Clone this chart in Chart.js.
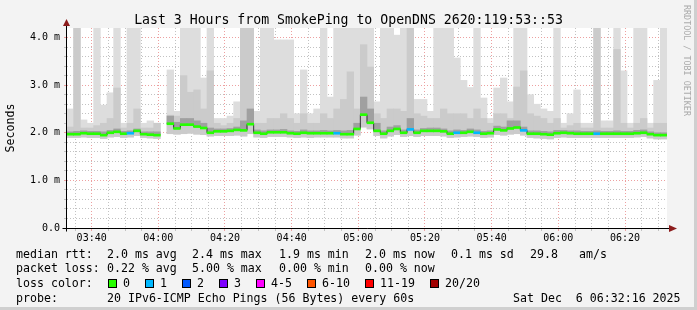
<!DOCTYPE html>
<html>
<head>
<meta charset="utf-8">
<script src="https://cdn.jsdelivr.net/npm/chart.js@4.4.1/dist/chart.umd.min.js"></script>
<style>
  html, body { margin: 0; padding: 0; background: #f3f3f3; }
  #graph { position: relative; width: 697px; height: 310px; background: #f3f3f3; overflow: hidden;
           font-family: 'DejaVu Sans Mono', monospace; color: #000; }
  #graph canvas { position: absolute; left: 0; top: 0; }
  .edge-r { position: absolute; right: 0; top: 0; width: 3px; height: 310px; background: #cfcfcf; }
  .edge-b { position: absolute; left: 0; bottom: 0; width: 697px; height: 3px; background: #cfcfcf; }
  .title { position: absolute; left: 0; top: 12px; width: 697px; text-align: center; font-size: 13.2px; line-height: 16px; white-space: pre; }
  .mark { position: absolute; left: 682px; top: 5px; writing-mode: vertical-rl; font-size: 8.4px; color: #aaaaaa; white-space: pre; }
  .t { position: absolute; white-space: pre; font-size: 11.6px; line-height: 14px; }
  .sw { position: absolute; width: 9px; height: 9px; box-sizing: border-box; border: 1px solid #000; }
</style>
</head>
<body>
<div id="graph">
  <canvas id="chart" width="697" height="310"></canvas>
  <div class="edge-r"></div>
  <div class="edge-b"></div>
  <div class="title">Last 3 Hours from SmokePing to OpenDNS 2620:119:53::53</div>
  <div class="mark">RRDTOOL / TOBI OETIKER</div>
  <div id="legend"></div>
</div>
<script>
// 2-minute slots starting at the left edge of the graph
var startTime = '03:32:36';
var stepMinutes = 2;
var windowMinutes = 180;

// median rtt (ms) per slot
var median = [1.97,1.97,1.99,1.98,1.98,1.95,2.00,2.02,1.98,1.99,
              2.04,1.97,1.96,1.95,null,2.19,2.09,2.17,2.17,2.13,
              2.10,2.00,2.03,2.03,2.04,2.06,2.05,2.18,2.00,1.98,
              2.01,2.01,2.01,1.99,1.98,2.00,1.99,1.99,1.99,1.99,
              1.99,1.97,1.97,2.08,2.38,2.21,2.04,1.98,2.04,2.08,
              2.00,2.07,2.00,2.04,2.04,2.04,2.03,1.98,2.00,2.00,
              2.02,2.00,1.98,1.99,2.07,2.05,2.09,2.11,2.05,1.98,
              1.98,1.97,1.96,1.99,2.00,1.99,1.98,1.98,1.98,1.98,
              1.98,1.98,1.98,1.98,1.98,1.99,2.00,1.97,1.95,1.95];
// lost pings (of 20) per slot
var loss = [0,0,0,0,0,0,0,0,0,1, 0,0,0,0,null,0,0,0,0,0,
            0,0,0,0,0,0,0,0,0,0, 0,0,0,0,0,0,0,0,0,0,
            1,0,0,0,0,0,0,0,0,0, 0,1,0,0,0,0,0,0,1,0,
            0,1,0,0,0,0,0,0,1,0, 0,0,0,0,0,0,0,0,0,1,
            0,0,0,0,0,0,0,0,0,0];
// smoke: fastest ping
var smokeMin = [1.90,1.90,1.91,1.90,1.90,1.88,1.91,1.92,1.90,1.91,
                1.94,1.90,1.89,1.88,null,1.98,1.97,1.98,1.99,1.97,
                1.96,1.93,1.94,1.94,1.94,1.95,1.93,1.98,1.91,1.90,
                1.92,1.92,1.92,1.91,1.90,1.91,1.90,1.91,1.91,1.91,
                1.91,1.89,1.89,1.95,2.12,2.08,1.94,1.89,1.93,1.96,
                1.92,1.94,1.92,1.94,1.94,1.94,1.93,1.90,1.91,1.92,
                1.93,1.92,1.90,1.91,1.96,1.95,1.97,1.98,1.95,1.90,
                1.89,1.88,1.87,1.90,1.91,1.90,1.90,1.90,1.90,1.90,
                1.90,1.90,1.90,1.90,1.90,1.91,1.92,1.89,1.87,1.87];
// smoke: upper edge of the dark band just above the median
var smokeDark = [2.02,2.03,2.04,2.03,2.03,2.02,2.05,2.08,2.03,2.04,
                 2.08,2.02,2.02,2.02,null,2.35,2.22,2.30,2.30,2.25,
                 2.20,2.10,2.08,2.08,2.09,2.12,2.25,2.50,2.06,2.04,
                 2.06,2.06,2.07,2.04,2.03,2.06,2.04,2.04,2.05,2.04,
                 2.05,2.04,2.05,2.20,2.75,2.50,2.20,2.04,2.12,2.15,
                 2.06,2.30,2.06,2.09,2.10,2.10,2.08,2.04,2.06,2.05,
                 2.08,2.06,2.03,2.04,2.14,2.12,2.25,2.25,2.12,2.04,
                 2.04,2.03,2.02,2.05,2.05,2.04,2.04,2.03,2.03,2.04,
                 2.03,2.03,2.04,2.03,2.03,2.05,2.06,2.02,2.00,2.00];
// smoke: upper edge of the mid grey band
var smokeMid = [2.12,4.20,2.10,2.10,2.15,2.20,2.30,2.94,2.10,2.20,
                2.50,2.10,2.10,2.20,null,2.37,2.35,3.20,2.85,2.90,
                2.50,3.30,2.20,2.15,2.20,2.30,4.20,4.20,2.20,2.20,
                2.30,2.30,2.40,2.30,2.20,2.40,2.20,2.20,2.40,2.30,
                2.50,2.70,3.28,2.50,3.85,3.38,2.40,2.30,2.50,2.50,
                2.45,4.20,2.40,2.35,2.30,2.30,2.50,2.40,2.40,2.40,
                2.30,2.50,2.30,2.20,2.40,2.40,2.30,2.96,3.30,2.40,
                2.35,2.30,2.20,2.30,2.10,2.15,2.20,2.10,2.10,4.20,
                2.10,2.10,3.75,2.20,2.10,2.20,2.30,2.10,2.20,2.20];
// smoke: slowest ping
var smokeMax = [2.50,4.20,2.27,2.20,4.20,2.58,2.84,4.20,2.20,4.20,
                4.20,2.20,2.25,2.20,null,3.32,2.45,4.20,4.20,4.20,
                3.15,4.20,2.30,2.30,2.35,2.65,4.20,4.20,2.45,4.20,
                4.20,3.95,3.95,3.95,2.40,3.32,2.40,2.50,4.20,2.75,
                4.20,4.20,4.20,4.20,4.20,4.20,2.65,4.20,4.20,4.05,
                4.20,4.20,2.70,2.70,2.45,4.20,4.20,4.20,3.57,3.10,
                2.95,4.20,2.73,2.30,2.94,3.15,2.65,4.20,4.20,2.80,
                2.60,2.50,2.45,4.20,2.20,2.40,2.90,2.20,2.20,4.20,
                2.25,2.25,4.20,3.30,2.20,4.20,4.20,2.20,3.10,4.20];

var xTickLabels = ['03:40','04:00','04:20','04:40','05:00','05:20','05:40','06:00','06:20'];
var yTickLabels = ['0.0','1.0 m','2.0 m','3.0 m','4.0 m'];
var lossLabels = ['0','1','2','3','4-5','6-10','11-19','20/20'];
var lossColors = ['#26ff00','#00b8ff','#0059ff','#7e00ff','#ff00ff','#ff5500','#ff0000','#a10000'];

function toMin(s) {
    var p = s.split(':').map(Number);
    return p[0] * 60 + p[1] + (p[2] || 0) / 60;
}
function fmt(v) {
    var h = Math.floor(v / 60), m = Math.round(v - h * 60);
    return (h < 10 ? '0' : '') + h + ':' + (m < 10 ? '0' : '') + m;
}

var x0 = toMin(startTime);
var slotX = median.map(function (_, i) { return x0 + stepMinutes * i + stepMinutes / 2; });
var majorX = xTickLabels.map(toMin);
var mono = "'DejaVu Sans Mono', monospace";
var medianHalf = 0.021;

function band(lo, hi) {
    return slotX.map(function (x, i) {
        return { x: x, y: (lo[i] == null || hi[i] == null) ? null : [lo[i], hi[i]] };
    });
}

var barBase = { type: 'bar', grouped: false, barPercentage: 1, categoryPercentage: 1, borderWidth: 0 };

var frame = {
    id: 'frame',
    beforeDraw: function (chart) {
        var a = chart.chartArea, ctx = chart.ctx;
        ctx.save();
        ctx.fillStyle = '#ffffff';
        ctx.fillRect(a.left, a.top, a.right - a.left, a.bottom - a.top);
        ctx.restore();
    },
    afterDraw: function (chart) {
        var a = chart.chartArea, ctx = chart.ctx;
        var yb = Math.round(a.bottom) + 0.5, xl = Math.round(a.left) - 0.5;
        ctx.save();
        ctx.strokeStyle = '#000';
        ctx.lineWidth = 1;
        ctx.beginPath();
        ctx.moveTo(xl - 4, yb); ctx.lineTo(a.right + 5, yb);
        ctx.moveTo(xl, yb + 3); ctx.lineTo(xl, a.top - 4);
        ctx.stroke();
        ctx.fillStyle = '#8c1c1c';
        ctx.beginPath();
        ctx.moveTo(a.right + 2, yb - 3.5); ctx.lineTo(a.right + 10, yb); ctx.lineTo(a.right + 2, yb + 3.5);
        ctx.closePath(); ctx.fill();
        ctx.beginPath();
        ctx.moveTo(xl - 3.5, a.top - 2); ctx.lineTo(xl, a.top - 9); ctx.lineTo(xl + 3.5, a.top - 2);
        ctx.closePath(); ctx.fill();
        ctx.restore();
    }
};

new Chart(document.getElementById('chart').getContext('2d'), {
    type: 'bar',
    data: {
        datasets: [
            Object.assign({}, barBase, {
                label: 'median',
                data: slotX.map(function (x, i) {
                    return { x: x, y: median[i] == null ? null : [median[i] - medianHalf, median[i] + medianHalf] };
                }),
                backgroundColor: loss.map(function (l) { return lossColors[l || 0]; })
            }),
            {
                type: 'line',
                label: 'median step',
                data: slotX.map(function (x, i) { return { x: x, y: median[i] }; }),
                stepped: 'middle',
                borderColor: '#333',
                borderWidth: 1,
                pointRadius: 0,
                spanGaps: false
            },
            Object.assign({}, barBase, { label: 'dark', data: band(median, smokeDark), backgroundColor: '#a0a0a0' }),
            Object.assign({}, barBase, { label: 'mid', data: band(smokeMin, smokeMid), backgroundColor: '#cbcbcb' }),
            Object.assign({}, barBase, { label: 'light', data: band(smokeMin, smokeMax), backgroundColor: '#dddddd' })
        ]
    },
    options: {
        responsive: false,
        animation: false,
        layout: { padding: { left: 0, top: 28, right: 30, bottom: 62 } },
        plugins: { legend: { display: false }, tooltip: { enabled: false }, title: { display: false } },
        scales: {
            x: {
                type: 'linear',
                min: x0,
                max: x0 + windowMinutes,
                offset: false,
                z: 1,
                afterFit: function (s) { s.height = 20; },
                afterBuildTicks: function (s) {
                    var t = [];
                    for (var v = Math.ceil(x0 / 5) * 5; v <= x0 + windowMinutes; v += 5) t.push({ value: v });
                    s.ticks = t;
                },
                grid: {
                    offset: false,
                    tickLength: 3,
                    color: function (c) {
                        return c.tick && majorX.indexOf(c.tick.value) >= 0 ? '#eda0a0' : '#c2c2c2';
                    }
                },
                border: { display: false, dash: [1, 2] },
                ticks: {
                    autoSkip: false, maxRotation: 0, padding: 1, color: '#000',
                    font: { family: mono, size: 10 },
                    callback: function (v) { var s = fmt(v); return xTickLabels.indexOf(s) >= 0 ? s : ''; }
                }
            },
            y: {
                min: 0,
                max: 4.2,
                z: 1,
                afterFit: function (s) { s.width = 67; },
                afterBuildTicks: function (s) {
                    var t = [];
                    for (var i = 0; i <= 20; i++) t.push({ value: i / 5 });
                    s.ticks = t;
                },
                grid: {
                    tickLength: 3,
                    color: function (c) {
                        return c.tick && Math.abs(c.tick.value - Math.round(c.tick.value)) < 1e-6 ? '#eda0a0' : '#c2c2c2';
                    }
                },
                border: { display: false, dash: [1, 2] },
                ticks: {
                    autoSkip: false, padding: 4, color: '#000',
                    font: { family: mono, size: 10 },
                    callback: function (v) {
                        return Math.abs(v - Math.round(v)) < 1e-6 ? (yTickLabels[Math.round(v)] || '') : '';
                    }
                },
                title: {
                    display: true, text: 'Seconds', color: '#000',
                    font: { family: mono, size: 11.6 },
                    padding: { top: 4, bottom: 0 }
                }
            }
        }
    },
    plugins: [frame]
});

// legend block under the graph
var rows = [
    [247, [[16, 'median rtt:'], [107, '2.0 ms avg'], [192, '2.4 ms max'], [279, '1.9 ms min'],
           [365, '2.0 ms now'], [451, '0.1 ms sd'], [530, '29.8'], [579, 'am/s']]],
    [261, [[16, 'packet loss:'], [107, '0.22 % avg'], [192, '5.00 % max'], [279, '0.00 % min'], [365, '0.00 % now']]],
    [276, [[16, 'loss color:']]],
    [291, [[16, 'probe:'], [107, '20 IPv6-ICMP Echo Pings (56 Bytes) every 60s'], [513, 'Sat Dec  6 06:32:16 2025']]]
];
var swatchX = [108, 145, 182, 219, 256, 307, 365, 430];
var legend = document.getElementById('legend');
rows.forEach(function (r) {
    r[1].forEach(function (it) {
        var d = document.createElement('div');
        d.className = 't';
        d.style.left = it[0] + 'px';
        d.style.top = r[0] + 'px';
        d.textContent = it[1];
        legend.appendChild(d);
    });
});
lossLabels.forEach(function (lab, i) {
    var s = document.createElement('div');
    s.className = 'sw';
    s.style.left = swatchX[i] + 'px';
    s.style.top = '279px';
    s.style.background = lossColors[i];
    legend.appendChild(s);
    var d = document.createElement('div');
    d.className = 't';
    d.style.left = (swatchX[i] + 15) + 'px';
    d.style.top = '276px';
    d.textContent = lab;
    legend.appendChild(d);
});
</script>
</body>
</html>
